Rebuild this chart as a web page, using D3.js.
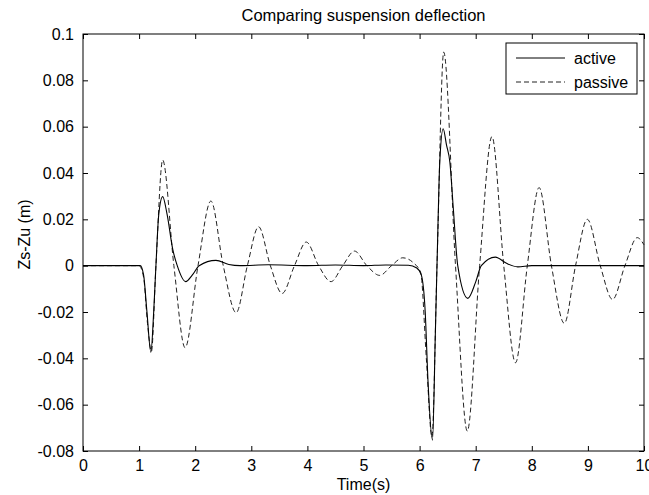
<!DOCTYPE html>
<html>
<head>
<meta charset="utf-8">
<script src="https://cdn.jsdelivr.net/npm/d3@7"></script>
<style>
  body { margin: 0; background: #fff; }
  text { font-family: "Liberation Sans", Arial, sans-serif; fill: #000; }
</style>
</head>
<body>
<svg id="chart" width="649" height="495"></svg>
<script>
// values (time in s, deflection in m)
var activeTime  = [0, 1.02, 1.08, 1.14, 1.21, 1.26, 1.30, 1.35, 1.42, 1.5, 1.6, 1.68, 1.83, 1.95, 2.07, 2.37, 2.6, 2.8, 3.3, 4.0, 4.5, 5.0, 5.4, 5.8, 5.95, 6.03, 6.1, 6.15, 6.23, 6.28, 6.32, 6.36, 6.42, 6.48, 6.54, 6.6, 6.68, 6.86, 7.0, 7.1, 7.35, 7.55, 7.75, 8.0, 10];
var activeValue = [0, 0, -0.004, -0.02, -0.0374, -0.02, 0, 0.022, 0.0298, 0.022, 0.007, 0, -0.0069, -0.004, 0, 0.0023, 0.0005, 0, 0.0004, 0, 0.0003, 0, 0.0003, 0.0002, -0.001, -0.004, -0.02, -0.05, -0.0753, -0.03, 0.01, 0.045, 0.0591, 0.052, 0.0446, 0.025, 0, -0.0141, -0.007, 0, 0.0037, 0.001, -0.0005, 0, 0];

var passiveTime  = [0, 1.0, 1.08, 1.15, 1.22, 1.3, 1.42, 1.62, 1.82, 2.05, 2.28, 2.5, 2.73, 2.93, 3.13, 3.34, 3.55, 3.77, 3.98, 4.2, 4.42, 4.63, 4.84, 5.06, 5.29, 5.5, 5.7, 5.9, 6.02, 6.12, 6.22, 6.31, 6.43, 6.64, 6.85, 7.07, 7.29, 7.5, 7.71, 7.92, 8.13, 8.35, 8.58, 8.78, 8.99, 9.22, 9.44, 9.66, 9.88, 10];
var passiveValue = [0, 0, -0.005, -0.025, -0.037, 0, 0.0456, 0, -0.0354, 0, 0.0279, 0, -0.0203, 0, 0.0168, 0, -0.012, 0, 0.0102, 0, -0.0069, 0, 0.0063, 0, -0.0042, 0, 0.0034, 0.001, -0.003, -0.04, -0.074, 0, 0.0922, 0, -0.0714, 0, 0.0557, 0, -0.0419, 0, 0.0337, 0, -0.0249, 0, 0.020, 0, -0.0146, 0, 0.0121, 0.009];

var xTicks = [0, 1, 2, 3, 4, 5, 6, 7, 8, 9, 10];
var yTicks = [-0.08, -0.06, -0.04, -0.02, 0, 0.02, 0.04, 0.06, 0.08, 0.1];
var seriesNames = ["active", "passive"];

var svg = d3.select("#chart");
var plotLeft = 83, plotRight = 644, plotTop = 34, plotBottom = 451;

var x = d3.scaleLinear().domain([0, 10]).range([plotLeft, plotRight]);
var y = d3.scaleLinear().domain([-0.08, 0.1]).range([plotBottom, plotTop]);

svg.append("rect").attr("width", 649).attr("height", 495).attr("fill", "#fff");

// axes, ticks pointing inward like matlab
var fmt = function(d) { return d === 0 ? "0" : String(+d.toFixed(2)); };

var xAxis = svg.append("g").attr("transform", "translate(0," + plotBottom + ")")
    .call(d3.axisBottom(x).tickValues(xTicks).tickSizeInner(-5).tickSizeOuter(0).tickPadding(9).tickFormat(fmt));
svg.append("g").attr("transform", "translate(0," + plotTop + ")")
    .call(d3.axisTop(x).tickValues(xTicks).tickSizeInner(-5).tickSizeOuter(0).tickFormat(""));
var yAxis = svg.append("g").attr("transform", "translate(" + plotLeft + ",0)")
    .call(d3.axisLeft(y).tickValues(yTicks).tickSizeInner(-5).tickSizeOuter(0).tickPadding(9).tickFormat(fmt));
svg.append("g").attr("transform", "translate(" + plotRight + ",0)")
    .call(d3.axisRight(y).tickValues(yTicks).tickSizeInner(-5).tickSizeOuter(0).tickFormat(""));

svg.selectAll(".domain").remove();
svg.selectAll(".tick line").attr("stroke", "#000");
svg.selectAll(".tick text").attr("font-size", 16).attr("font-family", "Liberation Sans, Arial, sans-serif");

// box
svg.append("rect")
    .attr("x", plotLeft).attr("y", plotTop)
    .attr("width", plotRight - plotLeft).attr("height", plotBottom - plotTop)
    .attr("fill", "none").attr("stroke", "#000").attr("stroke-width", 1);

// curves
var line = d3.line()
    .x(function(d) { return x(d[0]); })
    .y(function(d) { return y(d[1]); })
    .curve(d3.curveMonotoneX);

var passiveData = d3.zip(passiveTime, passiveValue);
var activeData = d3.zip(activeTime, activeValue);

svg.append("path")
    .datum(passiveData)
    .attr("d", line)
    .attr("fill", "none")
    .attr("stroke", "#222")
    .attr("stroke-width", 1)
    .attr("stroke-dasharray", "5,3");

svg.append("path")
    .datum(activeData)
    .attr("d", line)
    .attr("fill", "none")
    .attr("stroke", "#000")
    .attr("stroke-width", 1.1);

// title and labels
svg.append("text")
    .attr("x", (plotLeft + plotRight) / 2).attr("y", 21)
    .attr("text-anchor", "middle").attr("font-size", 16.5)
    .text("Comparing suspension deflection");

svg.append("text")
    .attr("x", (plotLeft + plotRight) / 2).attr("y", 490)
    .attr("text-anchor", "middle").attr("font-size", 16)
    .text("Time(s)");

svg.append("text")
    .attr("transform", "translate(30," + ((plotTop + plotBottom) / 2 - 8) + ") rotate(-90)")
    .attr("text-anchor", "middle").attr("font-size", 16)
    .text("Zs-Zu (m)");

// legend
var legend = svg.append("g");
legend.append("rect")
    .attr("x", 506).attr("y", 43).attr("width", 131).attr("height", 51)
    .attr("fill", "#fff").attr("stroke", "#000");

var rows = legend.selectAll(".row")
    .data(seriesNames)
    .enter().append("g")
    .attr("class", "row")
    .attr("transform", function(d, i) { return "translate(0," + (58 + i * 24) + ")"; });

rows.append("line")
    .attr("x1", 516).attr("x2", 565)
    .attr("stroke", function(d) { return d == "active" ? "#000" : "#222"; })
    .attr("stroke-dasharray", function(d) { return d == "active" ? null : "5,3"; });

rows.append("text")
    .attr("x", 574).attr("dy", "0.35em")
    .attr("font-size", 16)
    .text(function(d) { return d; });
</script>
</body>
</html>
